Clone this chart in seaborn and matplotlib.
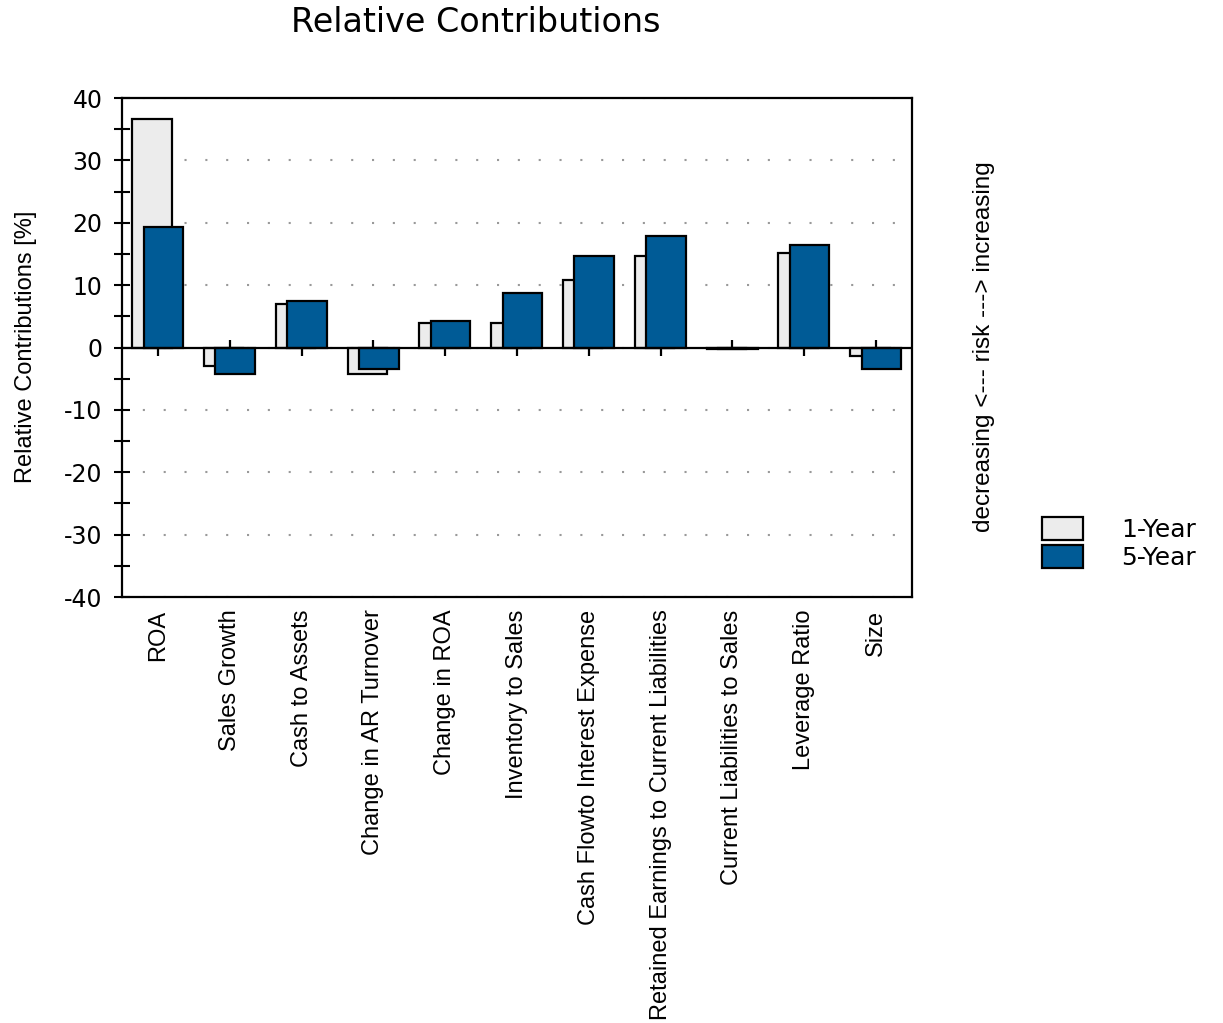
import pandas as pd
import numpy as np
import matplotlib
matplotlib.use('Agg')
import matplotlib.pyplot as plt
from matplotlib.patches import Patch
import seaborn as sns

# data
factors = ['ROA', 'Sales Growth', 'Cash to Assets', 'Change in AR Turnover',
           'Change in ROA', 'Inventory to Sales', 'Cash Flowto Interest Expense',
           'Retained Earnings to Current Liabilities',
           'Current Liabilities to Sales', 'Leverage Ratio', 'Size']
one_year = [36.6, -2.9, 6.9, -4.3, 4.0, 4.0, 10.8, 14.6, -0.2, 15.1, -1.4]
five_year = [19.3, -4.2, 7.5, -3.5, 4.3, 8.7, 14.6, 17.9, -0.3, 16.5, -3.5]
series_names = ['1-Year', '5-Year']

df = pd.DataFrame({'Factor': factors, '1-Year': one_year, '5-Year': five_year})

sns.set_theme(style='white')
upright = ['DejaVu Sans']
narrow = ['Liberation Sans', 'DejaVu Sans']
plt.rcParams['font.family'] = upright
plt.rcParams['text.color'] = 'black'
plt.rcParams['axes.labelcolor'] = 'black'
plt.rcParams['xtick.color'] = 'black'
plt.rcParams['ytick.color'] = 'black'
plt.rcParams['axes.unicode_minus'] = False

light = '#ececec'
blue = '#005b96'

fig = plt.figure(figsize=(12.23, 10.23), dpi=100)
ax = fig.add_axes([0.0998, 0.4164, 0.6459, 0.4878])

# 1-Year bars (behind, shifted left)
sns.barplot(data=df, x='Factor', y='1-Year', color=light, saturation=1,
            width=0.55, edgecolor='black', linewidth=1.6, ax=ax)
n1 = len(ax.patches)
for p in ax.patches:
    p.set_x(p.get_x() - 0.085)
# 5-Year bars (in front, shifted right)
sns.barplot(data=df, x='Factor', y='5-Year', color=blue, saturation=1,
            width=0.55, edgecolor='black', linewidth=1.6, ax=ax)
for p in ax.patches[n1:]:
    p.set_x(p.get_x() + 0.075)

# zero line and small ticks pointing away from the bars
ax.axhline(0, color='black', lw=1.6, zorder=1)
for i, v in enumerate(five_year):
    ax.plot(i, 0, marker=3 if v >= 0 else 2, color='black', ms=6, mew=1.6,
            zorder=1, clip_on=False)

ax.set_xlim(-0.5, 10.5)
ax.set_ylim(-40, 40)
ax.set_yticks(np.arange(-40, 41, 10))
ax.set_yticks(np.arange(-35, 40, 10), minor=True)
ax.tick_params(axis='y', which='both', direction='inout', length=12,
               width=1.5, color='black', left=True, labelsize=17, pad=8)
ax.tick_params(axis='x', length=0, pad=9)
ax.set_xticks(range(len(factors)))
ax.set_xticklabels(factors, rotation=90, ha='center', va='top',
                   family=narrow, fontsize=17)
ax.set_xlabel('')
ax.set_ylabel('')

ax.yaxis.grid(True, linestyle=(0, (1, 9)), color='#999999', lw=1.5)
ax.xaxis.grid(False)
ax.set_axisbelow(True)
for s in ax.spines.values():
    s.set_color('black')
    s.set_linewidth(1.6)

fig.text(0.389, 0.978, 'Relative Contributions', ha='center', va='center',
         fontsize=24)
fig.text(0.021, 0.661, 'Relative Contributions [%]', rotation=90,
         ha='center', va='center', family=narrow, fontsize=17)
fig.text(0.8046, 0.661, 'decreasing <--- risk ---> increasing', rotation=90,
         ha='center', va='center', family=narrow, fontsize=17.5)

handles = [Patch(facecolor=light, edgecolor='black', lw=1.6),
           Patch(facecolor=blue, edgecolor='black', lw=1.6)]
fig.legend(handles, series_names, loc='upper left',
           bbox_to_anchor=(1042 / 1223, 1 - 517 / 1023), frameon=False,
           fontsize=18, handlelength=1.65, handleheight=1.05,
           handletextpad=1.5, labelspacing=0.12, borderpad=0,
           borderaxespad=0)

fig.savefig('out.png', dpi=100)
